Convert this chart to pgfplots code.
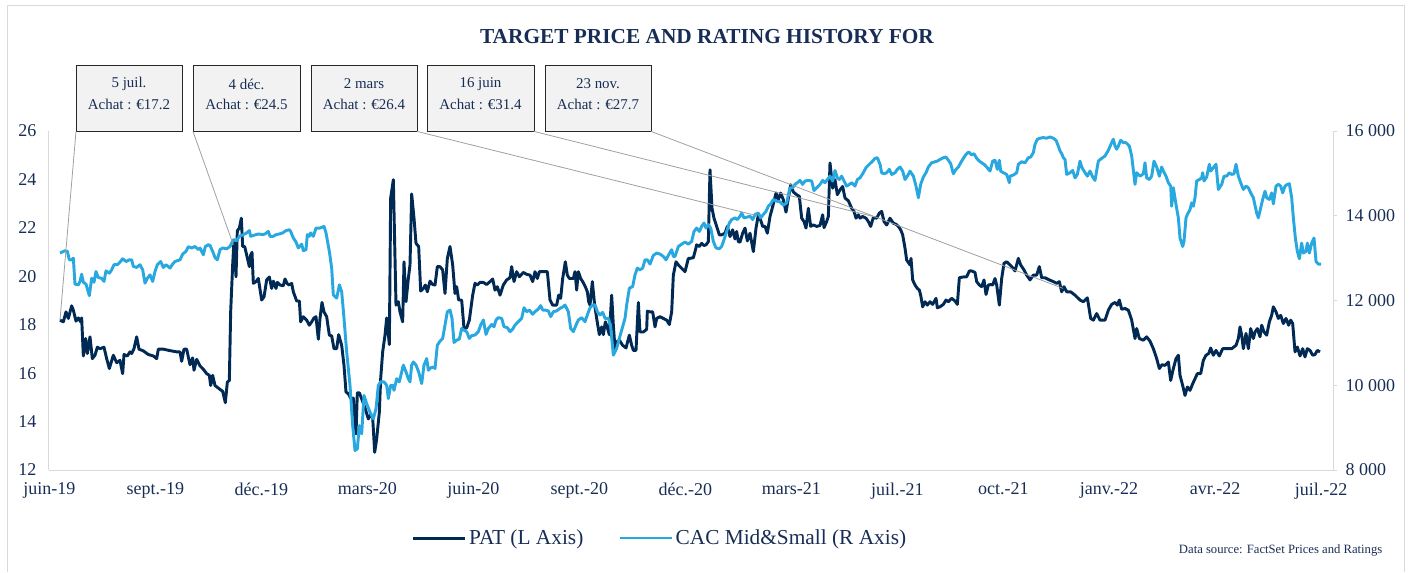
\documentclass[border=0pt]{standalone}
\usepackage{pgfplots}
\pgfplotsset{compat=1.18}
\usepackage{fontspec}
\setmainfont{Liberation Serif}
\definecolor{navy}{RGB}{24,45,85}
\definecolor{patc}{RGB}{0,41,84}
\definecolor{cacc}{RGB}{41,168,224}
\definecolor{axisgray}{RGB}{217,217,217}
\definecolor{leadgray}{RGB}{160,160,160}
\definecolor{boxgray}{RGB}{242,242,242}
\begin{document}
\begin{tikzpicture}
\begin{scope}[x=0.75pt,y=-0.75pt]
\useasboundingbox (0,0) rectangle (1410,572);
\draw[axisgray,line width=0.75pt] (7,572) -- (7,5) -- (1404,5) -- (1404,572);
\node[font=\fontsize{16}{19}\selectfont\bfseries,text=navy] at (707,37) {TARGET PRICE AND RATING HISTORY FOR};
\node[font=\fontsize{9.5}{11}\selectfont,text=navy,anchor=east] at (1387,550) {Data source: FactSet Prices and Ratings};
\end{scope}

\begin{axis}[
  at={(36.75pt,-352.5pt)}, anchor=south west, scale only axis,
  width=963pt, height=254.25pt,
  xmin=147, xmax=3999, ymin=12, ymax=26,
  axis x line*=bottom, axis y line*=left,
  axis line style={draw=axisgray, line width=0.75pt, -},
  xtick={148,466,784,1102,1420,1738,2056,2374,2692,3010,3327,3645,3963},
  xticklabels={juin-19,sept.-19,déc.-19,mars-20,juin-20,sept.-20,déc.-20,mars-21,juil.-21,oct.-21,janv.-22,avr.-22,juil.-22},
  ytick={12,14,16,18,20,22,24,26},
  yticklabels={12,14,16,18,20,22,24,26},
  tick style={draw=none},
  ticklabel style={font=\fontsize{13.5}{16}\selectfont, text=navy},
  yticklabel style={xshift=-6pt},
  xticklabel style={yshift=-6pt},
  clip=false,
]
\addplot[patc, line width=2.2pt, line join=round] coordinates {
(180,18.19)(190,18.12)(198,18.53)(205,18.26)(215,18.78)(220,18.60)(228,18.15)(235,18.28)(242,18.12)(245,18.28)(250,16.71)(257,17.43)(262,16.81)(270,17.50)(277,16.60)(285,16.74)(292,17.07)(300,17.01)(312,17.07)(320,16.60)(328,16.19)(340,16.74)(350,16.43)(360,16.53)(368,15.98)(372,16.77)(382,16.71)(390,16.88)(395,16.81)(402,17.01)(410,17.50)(417,16.99)(430,16.92)(445,16.77)(460,16.71)(470,16.60)(475,16.99)(490,16.99)(510,16.93)(530,16.88)(540,16.88)(545,16.49)(552,16.99)(560,16.99)(570,16.35)(578,16.63)(582,16.12)(590,16.57)(600,16.30)(610,16.16)(620,15.98)(628,15.91)(632,15.49)(638,15.91)(645,15.49)(660,15.33)(668,15.25)(676,14.78)(682,15.63)(688,15.70)(692,18.53)(698,20.47)(702,21.50)(708,19.98)(712,21.88)(718,21.99)(724,22.40)(728,21.23)(734,21.23)(740,20.88)(748,20.40)(752,20.88)(756,20.99)(760,19.71)(768,19.78)(775,19.91)(785,19.02)(792,19.15)(800,19.85)(808,19.97)(815,19.50)(820,19.80)(828,19.50)(832,19.75)(840,19.64)(850,19.61)(855,19.89)(862,19.69)(868,19.64)(875,19.71)(880,19.36)(890,18.98)(898,18.98)(902,18.12)(910,18.33)(920,18.19)(928,17.98)(935,18.12)(942,18.28)(948,18.33)(955,17.40)(960,18.26)(966,18.92)(972,18.53)(980,18.33)(988,17.57)(995,17.54)(1002,17.01)(1010,17.01)(1016,17.59)(1025,17.15)(1032,16.32)(1038,15.22)(1045,15.15)(1052,14.97)(1060,14.97)(1068,13.49)(1072,15.19)(1078,15.19)(1085,14.94)(1095,14.56)(1105,14.11)(1110,14.25)(1118,14.18)(1124,12.73)(1130,13.28)(1138,14.39)(1142,15.77)(1148,16.88)(1155,17.57)(1160,18.28)(1168,17.18)(1172,23.23)(1180,23.99)(1188,18.81)(1195,18.95)(1200,18.53)(1208,18.12)(1212,20.60)(1218,18.95)(1225,19.91)(1230,20.47)(1235,23.40)(1242,22.40)(1248,21.36)(1256,21.23)(1262,19.39)(1270,19.50)(1276,19.64)(1282,19.36)(1290,19.80)(1298,19.66)(1305,19.64)(1312,20.40)(1320,20.40)(1328,20.26)(1335,19.29)(1342,20.74)(1350,21.23)(1358,20.47)(1365,19.29)(1370,19.57)(1376,19.02)(1385,19.02)(1392,17.84)(1400,17.87)(1408,18.19)(1418,19.22)(1425,19.71)(1432,19.64)(1440,19.75)(1450,19.75)(1460,19.66)(1470,19.78)(1478,19.89)(1485,19.43)(1492,19.57)(1500,19.22)(1510,19.64)(1520,19.85)(1530,19.94)(1535,20.40)(1542,19.78)(1550,20.19)(1558,19.98)(1570,20.16)(1580,20.08)(1590,20.05)(1598,19.78)(1605,20.19)(1612,19.91)(1618,20.19)(1628,20.19)(1642,20.19)(1650,19.02)(1658,18.81)(1670,18.81)(1676,19.22)(1682,19.09)(1688,19.91)(1696,20.60)(1702,20.05)(1708,19.91)(1720,19.91)(1725,20.19)(1730,19.43)(1735,20.19)(1742,19.91)(1748,19.78)(1756,19.57)(1762,19.36)(1766,18.95)(1770,18.81)(1777,19.78)(1784,18.81)(1790,18.26)(1798,17.59)(1805,17.91)(1810,17.59)(1816,18.12)(1820,17.98)(1828,17.59)(1835,19.22)(1840,17.98)(1845,17.01)(1850,17.29)(1858,17.36)(1868,17.15)(1878,17.04)(1888,17.57)(1895,17.15)(1900,16.94)(1908,16.94)(1915,18.92)(1920,17.70)(1930,17.70)(1940,17.81)(1942,18.56)(1950,18.53)(1958,18.53)(1965,17.91)(1970,18.26)(1980,18.33)(1990,18.26)(2000,18.19)(2008,18.01)(2015,18.53)(2020,20.05)(2028,20.60)(2035,20.47)(2045,20.33)(2055,20.19)(2065,20.74)(2070,20.74)(2080,20.77)(2085,21.02)(2090,21.30)(2098,21.23)(2105,21.36)(2112,21.27)(2118,21.30)(2125,21.43)(2130,24.40)(2136,22.81)(2142,22.40)(2150,22.06)(2158,21.71)(2165,21.71)(2175,21.78)(2182,22.06)(2190,21.64)(2198,21.92)(2205,21.54)(2210,21.85)(2215,21.43)(2220,21.41)(2228,21.78)(2235,21.99)(2242,21.46)(2250,21.78)(2260,21.02)(2268,21.99)(2275,22.54)(2280,22.40)(2288,22.06)(2295,22.06)(2302,21.78)(2310,22.47)(2318,22.88)(2328,23.44)(2335,23.16)(2342,23.44)(2350,23.16)(2358,22.65)(2365,23.23)(2372,23.78)(2380,23.48)(2390,23.37)(2398,23.30)(2405,22.40)(2412,22.26)(2418,21.99)(2425,22.81)(2432,22.06)(2440,22.12)(2450,22.06)(2460,22.10)(2468,22.54)(2472,22.01)(2480,22.26)(2485,22.47)(2490,24.68)(2498,23.64)(2505,23.99)(2512,23.37)(2520,23.57)(2528,23.71)(2535,23.23)(2545,23.12)(2555,22.81)(2562,22.68)(2568,22.40)(2575,22.54)(2580,22.40)(2588,22.47)(2598,22.40)(2605,22.26)(2612,22.06)(2620,22.43)(2630,22.40)(2638,22.61)(2645,22.68)(2652,22.26)(2660,22.12)(2670,22.40)(2680,22.19)(2688,22.15)(2695,22.06)(2702,21.92)(2708,21.71)(2715,21.16)(2720,20.67)(2730,20.47)(2733,20.74)(2738,19.85)(2745,19.64)(2752,19.50)(2758,19.43)(2762,19.22)(2768,18.74)(2775,18.95)(2782,18.81)(2790,18.95)(2798,18.84)(2808,19.09)(2812,18.70)(2820,18.74)(2830,18.84)(2838,19.02)(2845,18.95)(2855,19.09)(2865,18.98)(2872,18.84)(2878,19.94)(2888,19.97)(2900,19.98)(2908,20.22)(2915,20.22)(2925,20.16)(2930,19.78)(2938,19.64)(2945,19.57)(2952,19.85)(2958,19.25)(2965,19.64)(2972,19.66)(2978,19.64)(2985,19.91)(2990,19.64)(2998,18.81)(3005,19.91)(3012,20.54)(3020,20.60)(3030,20.47)(3035,20.40)(3045,20.22)(3055,20.74)(3062,20.47)(3072,20.26)(3080,20.05)(3090,19.85)(3100,20.05)(3110,20.05)(3118,20.40)(3125,19.94)(3135,19.94)(3148,19.85)(3160,19.78)(3170,19.71)(3178,19.78)(3185,19.36)(3192,19.57)(3200,19.36)(3212,19.36)(3225,19.22)(3240,19.02)(3250,18.95)(3262,19.11)(3272,18.26)(3280,18.19)(3290,18.46)(3300,18.19)(3315,18.19)(3325,18.60)(3335,18.84)(3345,18.92)(3352,18.81)(3358,19.02)(3365,18.64)(3375,18.67)(3385,18.60)(3395,18.19)(3405,17.43)(3410,17.84)(3418,17.43)(3430,17.36)(3440,17.50)(3450,17.32)(3460,17.01)(3470,16.60)(3478,16.19)(3486,16.35)(3495,16.32)(3505,16.46)(3512,15.70)(3520,16.19)(3528,16.60)(3535,16.74)(3540,15.91)(3548,15.49)(3555,15.08)(3562,15.43)(3570,15.29)(3578,15.56)(3585,15.77)(3592,15.98)(3602,15.98)(3610,16.53)(3618,16.74)(3626,16.81)(3632,17.04)(3640,16.74)(3648,16.94)(3658,16.71)(3668,17.01)(3680,17.01)(3695,17.01)(3708,17.15)(3715,17.43)(3720,17.91)(3725,17.57)(3730,17.01)(3738,17.64)(3745,17.01)(3752,17.84)(3760,17.43)(3765,17.70)(3772,17.84)(3780,17.50)(3785,17.98)(3792,17.70)(3800,17.57)(3808,18.12)(3815,18.39)(3820,18.74)(3828,18.53)(3835,18.26)(3842,18.39)(3850,18.05)(3858,18.26)(3866,17.98)(3872,18.19)(3878,18.05)(3885,16.88)(3892,17.08)(3900,16.71)(3908,17.01)(3915,16.67)(3922,17.01)(3930,16.94)(3938,16.74)(3945,16.77)(3952,16.94)(3960,16.88)
};
\coordinate (e1) at (axis cs:180,18.19);
\coordinate (e2) at (axis cs:700,21.3);
\coordinate (e3) at (axis cs:2272,22.5);
\coordinate (e4) at (axis cs:2625,22.45);
\coordinate (e5) at (axis cs:3189,19.5);
\end{axis}

\begin{axis}[
  at={(36.75pt,-352.5pt)}, anchor=south west, scale only axis,
  width=963pt, height=254.25pt,
  xmin=147, xmax=3999, ymin=8000, ymax=16000,
  axis x line=none, axis y line*=right,
  axis line style={draw=axisgray, line width=0.75pt, -},
  scaled y ticks=false,
  ytick={8000,10000,12000,14000,16000},
  yticklabels={8 000,10 000,12 000,14 000,16 000},
  tick align=outside, major tick length=3pt,
  ytick style={draw=axisgray, line width=0.75pt},
  ticklabel style={font=\fontsize{13.5}{16}\selectfont, text=navy},
  yticklabel style={xshift=3pt},
  clip=false,
  legend style={at={(0.476,-0.2006)}, anchor=center, draw=none, fill=none,
     font=\fontsize{16}{19}\selectfont, text=navy,
     /tikz/every even column/.append style={column sep=24pt}},
  legend columns=2,
  legend image code/.code={\draw[#1] (0pt,0pt) -- (39pt,0pt);},
]
\addlegendimage{patc, line width=2.25pt}
\addlegendentry{PAT (L Axis)}
\addplot[cacc, line width=2.2pt, line join=round] coordinates {
(180,13120)(195,13175)(202,13160)(208,12960)(215,12960)(220,13000)(225,12385)(235,12370)(240,12450)(245,12620)(250,12430)(258,12385)(268,12115)(275,12525)(282,12430)(288,12685)(295,12540)(305,12525)(312,12450)(318,12700)(328,12645)(335,12725)(342,12845)(352,12845)(360,12905)(368,12985)(378,12920)(388,12960)(395,12960)(400,12805)(410,12780)(420,12845)(428,12725)(435,12410)(442,12525)(450,12605)(458,12450)(465,12685)(472,12845)(482,12920)(490,12780)(498,12845)(510,12765)(518,12860)(525,12920)(532,12940)(540,12960)(548,13095)(558,13160)(565,13270)(575,13240)(585,13275)(595,13200)(600,13240)(610,13080)(616,13275)(625,13315)(630,13300)(638,13160)(645,13015)(652,12960)(660,13200)(668,13240)(680,13220)(690,13275)(700,13435)(710,13410)(718,13515)(730,13555)(740,13595)(748,13650)(752,13515)(762,13540)(775,13570)(788,13555)(795,13570)(805,13630)(810,13515)(820,13515)(828,13555)(838,13570)(848,13595)(858,13650)(868,13670)(872,13630)(880,13475)(888,13380)(895,13240)(905,13330)(910,13175)(918,13200)(922,13555)(928,13515)(932,13595)(940,13515)(948,13710)(960,13710)(972,13750)(978,13595)(988,13160)(995,12765)(1000,12130)(1010,12055)(1018,12370)(1025,12210)(1032,11580)(1040,10790)(1050,10000)(1058,9050)(1065,8460)(1072,8500)(1078,9050)(1085,8855)(1092,9760)(1100,9565)(1110,9365)(1120,9210)(1128,9445)(1135,10000)(1142,10080)(1152,10080)(1160,10000)(1165,9685)(1172,10000)(1178,10000)(1182,9880)(1190,10155)(1198,10080)(1205,10315)(1210,10475)(1218,10315)(1225,10155)(1230,10080)(1235,10475)(1240,10550)(1248,10475)(1256,10315)(1265,10040)(1272,10475)(1280,10630)(1285,10355)(1292,10410)(1300,10430)(1305,10395)(1312,10945)(1320,11040)(1328,11105)(1335,11420)(1342,11735)(1350,11775)(1356,11580)(1362,11010)(1370,11065)(1378,11090)(1385,11340)(1392,11300)(1400,11265)(1408,11105)(1415,11170)(1425,11185)(1435,11265)(1442,11420)(1450,11540)(1458,11200)(1465,11340)(1475,11435)(1482,11380)(1488,11540)(1495,11595)(1505,11580)(1512,11380)(1522,11360)(1530,11265)(1538,11325)(1545,11420)(1555,11500)(1565,11580)(1572,11830)(1580,11735)(1588,11775)(1598,11675)(1605,11735)(1615,11800)(1622,11880)(1628,11775)(1635,11775)(1645,11755)(1652,11620)(1660,11735)(1670,11755)(1680,11815)(1690,11855)(1695,11895)(1705,11735)(1712,11340)(1720,11265)(1728,11420)(1735,11540)(1745,11595)(1755,11500)(1762,11660)(1770,11830)(1778,11895)(1785,11895)(1792,11735)(1800,11660)(1808,11720)(1815,11580)(1825,11580)(1832,11380)(1840,10710)(1850,10870)(1858,11105)(1865,11300)(1875,11580)(1880,11895)(1888,12290)(1898,12330)(1905,12605)(1912,12765)(1920,12725)(1928,12765)(1935,12960)(1942,12960)(1950,12860)(1960,13065)(1970,13120)(1980,13095)(1990,13040)(1998,12960)(2005,13065)(2015,13200)(2020,13040)(2025,13040)(2035,13275)(2045,13330)(2055,13380)(2065,13330)(2075,13395)(2082,13630)(2090,13710)(2098,13630)(2105,13750)(2112,13830)(2118,13710)(2125,13790)(2132,13710)(2140,13395)(2148,13240)(2158,13220)(2165,13275)(2172,13435)(2180,13630)(2188,13830)(2195,13910)(2205,13950)(2212,13910)(2220,13990)(2225,14065)(2232,13950)(2240,13965)(2250,13990)(2258,13910)(2265,14030)(2275,14065)(2282,13950)(2290,14030)(2298,14105)(2305,14225)(2312,14280)(2320,14385)(2330,14345)(2340,14330)(2350,14250)(2360,14305)(2370,14660)(2378,14660)(2385,14740)(2392,14780)(2400,14835)(2408,14740)(2415,14820)(2425,14835)(2435,14820)(2442,14595)(2450,14660)(2460,14740)(2468,14835)(2475,14780)(2482,14855)(2490,14935)(2498,14820)(2505,15070)(2512,14895)(2518,14855)(2525,14935)(2532,14820)(2540,14700)(2548,14740)(2555,14780)(2565,14700)(2572,14855)(2580,14895)(2588,14990)(2598,15135)(2608,15215)(2618,15290)(2625,15355)(2632,15370)(2640,15215)(2645,15015)(2652,14990)(2660,15015)(2668,15095)(2675,14975)(2685,15015)(2692,15095)(2700,15150)(2708,15055)(2715,14855)(2725,14975)(2730,15055)(2740,14935)(2748,14700)(2755,14425)(2762,14740)(2770,14915)(2778,15015)(2785,15150)(2795,15250)(2805,15275)(2812,15290)(2820,15330)(2830,15370)(2838,15385)(2845,15310)(2852,15230)(2860,14990)(2868,15095)(2875,15150)(2882,15250)(2890,15355)(2898,15450)(2906,15505)(2915,15435)(2922,15465)(2930,15355)(2938,15290)(2945,15250)(2952,15215)(2960,15150)(2970,15055)(2978,15290)(2985,15310)(2992,15095)(2998,15310)(3002,15055)(3010,15015)(3020,14975)(3028,14780)(3030,14935)(3040,14960)(3050,15015)(3055,15215)(3065,15275)(3075,15250)(3085,15370)(3092,15385)(3100,15490)(3105,15685)(3112,15805)(3120,15830)(3130,15845)(3140,15830)(3150,15860)(3160,15830)(3168,15780)(3175,15645)(3180,15530)(3185,15465)(3190,15370)(3195,15330)(3200,14975)(3210,15015)(3218,15070)(3225,14895)(3232,14975)(3240,15290)(3245,15150)(3252,15055)(3262,14935)(3270,15055)(3278,14915)(3285,14835)(3295,15290)(3305,15355)(3315,15410)(3325,15545)(3335,15725)(3340,15805)(3345,15645)(3350,15570)(3355,15645)(3362,15780)(3370,15725)(3378,15725)(3388,15645)(3395,15410)(3405,14740)(3410,15015)(3420,14935)(3430,14990)(3435,15250)(3440,14895)(3448,14855)(3455,14935)(3462,15290)(3470,15150)(3478,14935)(3485,15150)(3490,15055)(3498,14935)(3505,14780)(3512,14700)(3515,14225)(3520,14660)(3528,14265)(3535,13950)(3540,13475)(3548,13275)(3552,13395)(3558,13950)(3562,14030)(3570,14145)(3575,14305)(3580,14225)(3585,14425)(3590,14820)(3598,14855)(3605,14895)(3608,15015)(3612,14820)(3620,14915)(3628,15215)(3632,15055)(3640,15135)(3648,15215)(3655,14620)(3665,14740)(3672,14935)(3680,14935)(3688,15015)(3695,14975)(3702,14990)(3708,15215)(3715,14935)(3722,14780)(3730,14620)(3738,14700)(3745,14660)(3752,14540)(3760,14425)(3770,14065)(3775,13950)(3782,14185)(3788,14385)(3795,14580)(3800,14425)(3808,14385)(3815,14540)(3820,14280)(3828,14700)(3835,14740)(3842,14700)(3848,14540)(3855,14700)(3862,14740)(3868,14755)(3875,14425)(3880,13950)(3886,13475)(3892,13160)(3898,12985)(3905,13355)(3910,13120)(3918,13160)(3922,13355)(3928,13120)(3935,13355)(3942,13475)(3948,12920)(3955,12860)(3963,12860)
};
\addlegendentry{CAC Mid\&Small (R Axis)}
\end{axis}

\begin{scope}[x=0.75pt,y=-0.75pt]
\foreach \xa/\xb/\da/\pr in {76/182/5 juil./17.2, 193/300/4 déc./24.5, 311/417/2 mars/26.4, 427/534/16 juin/31.4, 545/651/23 nov./27.7}{
  \draw[fill=boxgray, draw=black!85, line width=0.75pt] (\xa,65) rectangle (\xb,131);
  \node[font=\fontsize{11.2}{13}\selectfont, text=navy] at ({(\xa+\xb)/2},84) {\da};
  \node[font=\fontsize{11.2}{13}\selectfont, text=navy] at ({(\xa+\xb)/2},104) {Achat : €\pr};
}
\draw[leadgray, line width=0.6pt] (76,131.4) -- (e1);
\draw[leadgray, line width=0.6pt] (193,131.4) -- (e2);
\draw[leadgray, line width=0.6pt] (417,131.4) -- (e3);
\draw[leadgray, line width=0.6pt] (534,131.4) -- (e4);
\draw[leadgray, line width=0.6pt] (651,131.4) -- (e5);
\end{scope}
\end{tikzpicture}
\end{document}
